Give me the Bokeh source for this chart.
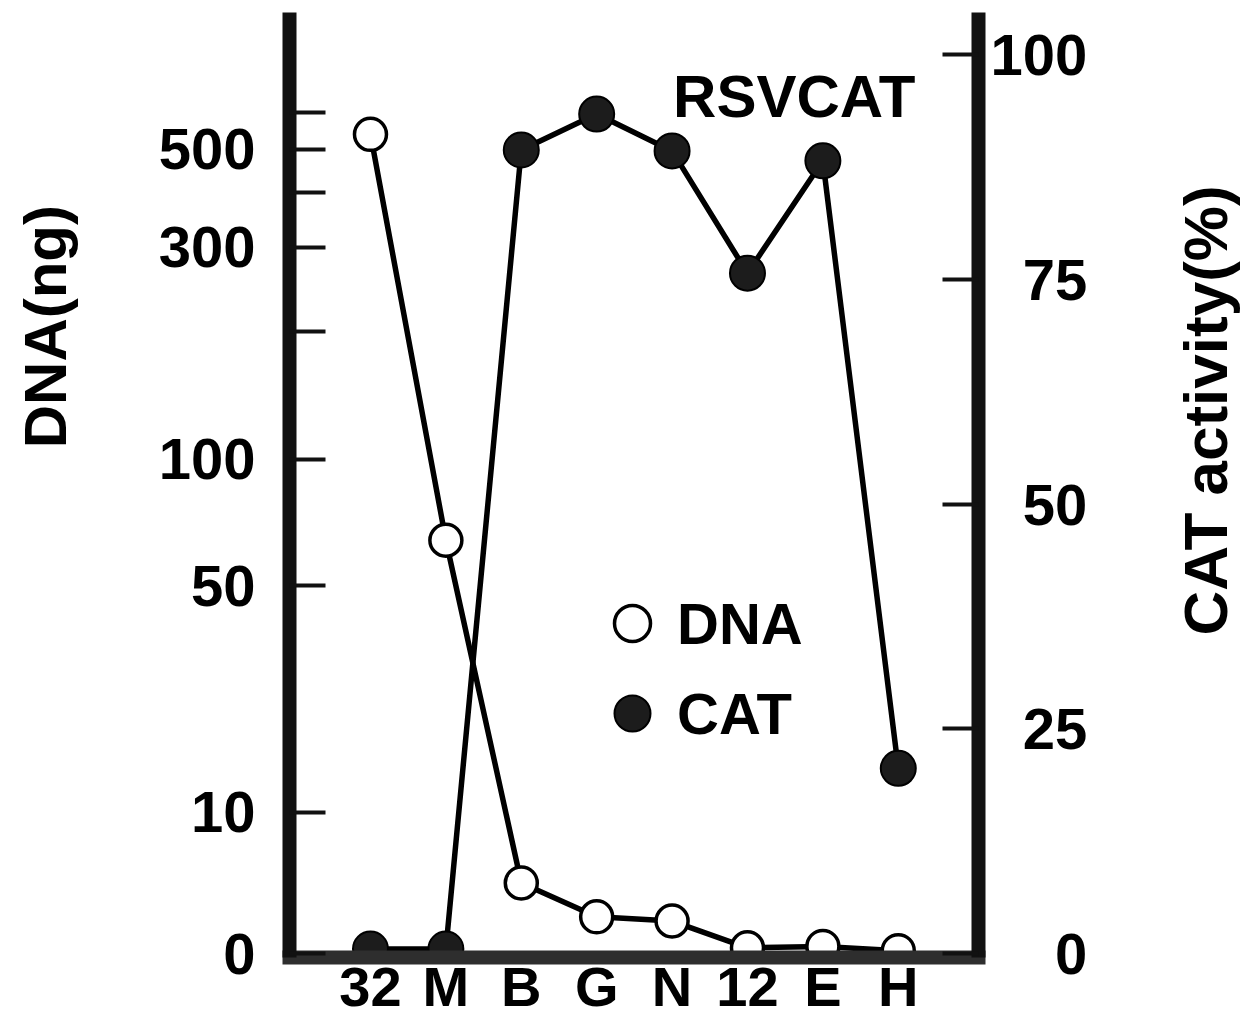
import math
import numpy as np
from bokeh.plotting import figure
from bokeh.layouts import row
from bokeh.models import (Range1d, LinearAxis, FixedTicker, Label, Legend, LegendItem,
                          CustomJSTickFormatter)
from bokeh.embed import file_html
from bokeh.resources import INLINE

# ---- data -------------------------------------------------------------
categories = ["32", "M", "B", "G", "N", "12", "E", "H"]
dna_ng = [540, 68, 5.0, 2.6, 2.3, 0.4, 0.5, 0.2]
cat_activity = [0.5, 0.5, 89.4, 93.4, 89.3, 75.7, 88.2, 20.6]

# hand-drawn (non-linear) DNA axis: tick values and their height on the 0-100 scale
dna_tick_values = [0, 10, 50, 100, 200, 300, 400, 500, 600]
dna_tick_heights = [0, 15.7, 40.9, 55.0, 69.2, 78.6, 84.7, 89.5, 93.6]
dna_tick_labels = ["0", "10", "50", "100", "", "300", "", "500", ""]

cat_ticks = [0, 25, 50, 75, 100]
cat_tick_labels = ["0", "25", "50", "75", "100"]

FONT = "Liberation Sans"
NBSP = "\u00a0"

x = list(range(len(categories)))
dna_y = np.interp(dna_ng, dna_tick_values, dna_tick_heights)


def lookup_formatter(positions, labels):
    return CustomJSTickFormatter(args=dict(pos=list(positions), lab=list(labels)), code="""
        for (let i = 0; i < pos.length; i++) {
            if (Math.abs(pos[i] - tick) < 1e-6) { return lab[i]; }
        }
        return "";
    """)


TOP, FRAME_H, BOTTOM = 12, 945, 58
p = figure(frame_width=689, frame_height=FRAME_H,
           x_range=Range1d(-1.074, 8.064), y_range=Range1d(-0.445, 104.7),
           output_backend="svg", toolbar_location=None,
           x_axis_location=None, y_axis_location=None,
           min_border_left=289, min_border_right=115,
           min_border_top=TOP, min_border_bottom=BOTTOM)
p.outline_line_color = None
p.background_fill_color = "white"
p.border_fill_color = "white"
p.xgrid.visible = False
p.ygrid.visible = False


def style_axis(ax, size="58px"):
    ax.axis_line_width = 14
    ax.axis_line_color = "#111111"
    ax.major_tick_line_color = "#111111"
    ax.major_tick_line_width = 4
    ax.major_tick_out = 0
    ax.minor_tick_line_color = None
    ax.major_label_text_font = FONT
    ax.major_label_text_font_style = "bold"
    ax.major_label_text_font_size = size
    ax.major_label_text_color = "black"


# bottom axis (categories)
xax = LinearAxis(ticker=FixedTicker(ticks=x), formatter=lookup_formatter(x, categories))
style_axis(xax, "56px")
xax.axis_line_color = "#2e2e2e"
xax.axis_line_cap = "square"
xax.major_tick_line_color = None
xax.major_tick_in = 0
xax.major_label_standoff = -3
p.add_layout(xax, "below")

# left DNA axis
yl = LinearAxis(ticker=FixedTicker(ticks=dna_tick_heights),
                formatter=lookup_formatter(dna_tick_heights, dna_tick_labels))
style_axis(yl)
yl.major_tick_in = 36
yl.major_label_standoff = 34
# axis title, pushed up the axis by leading no-break spaces
yl.axis_label = NBSP * 19 + "DNA(ng)"
yl.axis_label_text_font = FONT
yl.axis_label_text_font_style = "bold"
yl.axis_label_text_color = "black"
yl.axis_label_text_font_size = "60px"
yl.axis_label_standoff = 77
p.add_layout(yl, "left")

# right CAT axis (labels right-aligned with figure spaces)
w = max(len(t) for t in cat_tick_labels)
yr = LinearAxis(ticker=FixedTicker(ticks=cat_ticks),
                formatter=lookup_formatter(cat_ticks, ["\u2007" * (w - len(t)) + t for t in cat_tick_labels]))
style_axis(yr)
yr.major_tick_in = 36
yr.major_label_standoff = 12
p.add_layout(yr, "right")

# series
p.line(x, cat_activity, line_width=5.5, line_color="black")
p.line(x, dna_y, line_width=5.5, line_color="black")
dna_pts = p.scatter(x, dna_y, size=32, fill_color="white", line_color="black", line_width=3.5)
cat_pts = p.scatter(x, cat_activity, size=35, fill_color="#1c1c1c", line_color="black", line_width=2)

# legends (no box)
for r, lab, loc in [(dna_pts, "DNA", (298, 289)), (cat_pts, "CAT", (298, 199))]:
    lg = Legend(items=[LegendItem(label=lab, renderers=[r])], location=loc,
                glyph_width=90, glyph_height=90, label_standoff=0,
                padding=0, margin=0, border_line_color=None,
                background_fill_alpha=0,
                label_text_font=FONT, label_text_font_style="bold",
                label_text_font_size="58px", label_text_color="black")
    p.add_layout(lg)

# in-plot title text
p.add_layout(Label(x=5.62, y=95.4, text="RSVCAT", text_align="center",
                   text_baseline="alphabetic", text_font_size="60px",
                   text_font=FONT, text_font_style="bold", text_color="black"))

# narrow side panel holding the right-hand axis title (reads bottom to top)
H = TOP + FRAME_H + BOTTOM
side = figure(width=155, height=H, x_range=Range1d(0, 155), y_range=Range1d(0, H),
              output_backend="svg", toolbar_location=None,
              x_axis_location=None, y_axis_location=None,
              min_border=0)
side.outline_line_color = None
side.xgrid.visible = False
side.ygrid.visible = False
side.background_fill_color = "white"
side.border_fill_color = "white"
side.add_layout(Label(x=112, y=H - 473, x_units="screen", y_units="screen",
                      text="CAT activity(%)", angle=math.pi / 2,
                      text_align="center", text_baseline="middle",
                      text_font_size="62px", text_font=FONT,
                      text_font_style="bold", text_color="black"))

layout = row(p, side, spacing=0)
open("out.html", "w").write(file_html(layout, INLINE))
